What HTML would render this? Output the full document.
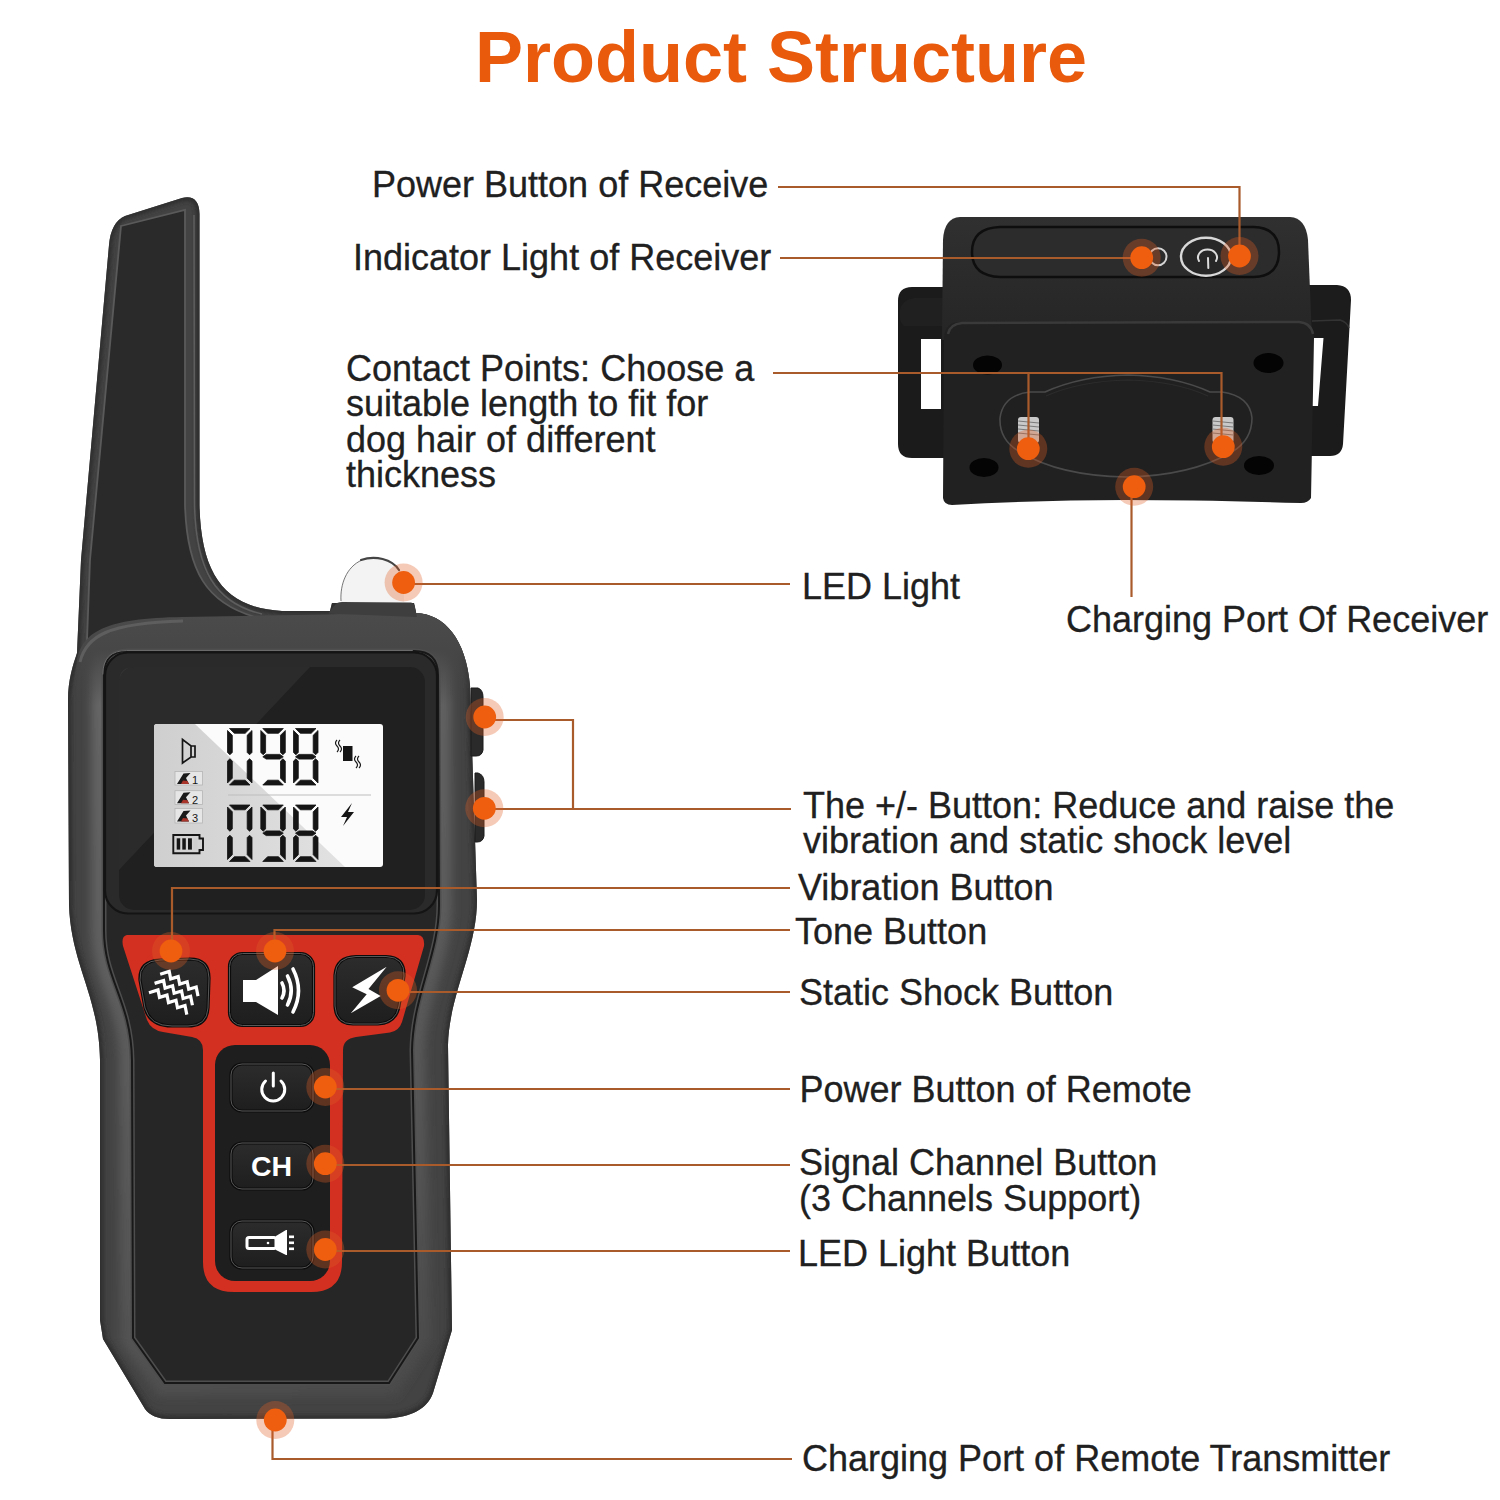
<!DOCTYPE html>
<html><head><meta charset="utf-8">
<style>
html,body{margin:0;padding:0;background:#fff;}
body{width:1500px;height:1500px;overflow:hidden;position:relative;}
svg{position:absolute;left:0;top:0;display:block;}
.lbl{font-family:"Liberation Sans",sans-serif;font-size:36px;fill:#202020;stroke:#222;stroke-width:0.3px;}
.ttl{font-family:"Liberation Sans",sans-serif;font-size:72px;font-weight:700;fill:#e95a0c;}
.ln{stroke:#a95b2b;stroke-width:2.2;fill:none;}
</style></head>
<body>
<svg width="1500" height="1500" viewBox="0 0 1500 1500">
<defs>
  <linearGradient id="rboxg" gradientUnits="userSpaceOnUse" x1="0" y1="217" x2="0" y2="330">
    <stop offset="0" stop-color="#303030"/>
    <stop offset="1" stop-color="#262626"/>
  </linearGradient>
  <linearGradient id="hlg" gradientUnits="userSpaceOnUse" x1="70" y1="700" x2="450" y2="1420">
    <stop offset="0" stop-color="#666666"/>
    <stop offset="0.6" stop-color="#575757"/>
    <stop offset="1" stop-color="#484848"/>
  </linearGradient>
  <linearGradient id="btng" x1="0" y1="0" x2="0" y2="1">
    <stop offset="0" stop-color="#2c2c2c"/>
    <stop offset="1" stop-color="#1e1e1e"/>
  </linearGradient>
  <linearGradient id="bumpg" gradientUnits="userSpaceOnUse" x1="0" y1="611" x2="0" y2="705">
    <stop offset="0" stop-color="#4b4b4b" stop-opacity="1"/>
    <stop offset="0.4" stop-color="#474747" stop-opacity="1"/>
    <stop offset="1" stop-color="#434343" stop-opacity="0"/>
  </linearGradient>
  <linearGradient id="rimg" x1="0" y1="0" x2="1" y2="0">
    <stop offset="0" stop-color="#2e2e2e"/>
    <stop offset="0.05" stop-color="#424242"/>
    <stop offset="0.12" stop-color="#3a3a3a"/>
    <stop offset="0.88" stop-color="#3a3a3a"/>
    <stop offset="0.94" stop-color="#454545"/>
    <stop offset="1" stop-color="#2e2e2e"/>
  </linearGradient>
  <linearGradient id="glare" x1="0" y1="0" x2="1" y2="0">
    <stop offset="0" stop-color="#cfcfcf"/>
    <stop offset="1" stop-color="#e2e2e2"/>
  </linearGradient>
  <linearGradient id="lcdg" x1="0" y1="0" x2="1" y2="1">
    <stop offset="0" stop-color="#d9d9d9"/>
    <stop offset="0.45" stop-color="#e4e4e4"/>
    <stop offset="0.5" stop-color="#f7f7f7"/>
    <stop offset="1" stop-color="#ffffff"/>
  </linearGradient>
</defs>

<!-- TITLE -->
<text class="ttl" x="475" y="82">Product Structure</text>

<!-- ============ REMOTE ============ -->
<g id="remote">
  <!-- outer silhouette (rim) -->
  <clipPath id="silclip"><path d="M109,245 Q111,222 125,216 L182,198 Q199,194 199.5,214 L199.5,505 C201,575 225,608 282,611 L330,611 L332,603 L414,603 L416,613 C445,614 466,640 470,685 L477,900 C477,950 449,995 448,1045 L452,1330 L433,1393 C427,1409 412,1417 386,1418.5 L170,1419 Q152,1419 145,1409 L103,1339 L100,1320 L100,1060 C99,995 71,965 69,905 L68,700 C68,680 73,665 77,653 L81,560 Z"/></clipPath>
  <filter id="blur5" x="-20%" y="-20%" width="140%" height="140%"><feGaussianBlur stdDeviation="5"/></filter>
  <filter id="blur2" x="-20%" y="-20%" width="140%" height="140%"><feGaussianBlur stdDeviation="2"/></filter>
  <path fill="#434343" d="M109,245 Q111,222 125,216 L182,198 Q199,194 199.5,214 L199.5,505 C201,575 225,608 282,611 L330,611 L332,603 L414,603 L416,613 C445,614 466,640 470,685 L477,900 C477,950 449,995 448,1045 L452,1330 L433,1393 C427,1409 412,1417 386,1418.5 L170,1419 Q152,1419 145,1409 L103,1339 L100,1320 L100,1060 C99,995 71,965 69,905 L68,700 C68,680 73,665 77,653 L81,560 Z"/>
  <g clip-path="url(#silclip)">
    <path d="M128,651 L414,651 Q438,651 438,675 L439,905 C439,955 413,995 412,1050 L418,1338 L389,1383 L165,1383 L133,1338 L132,1060 C131,1000 104,980 104,930 L104,675 Q104,651 128,651 Z" fill="none" stroke="url(#hlg)" stroke-width="26" filter="url(#blur5)"/>
    <path d="M109,245 Q111,222 125,216 L182,198 Q199,194 199.5,214 L199.5,505 C201,575 225,608 282,611 L330,611 L332,603 L414,603 L416,613 C445,614 466,640 470,685 L477,900 C477,950 449,995 448,1045 L452,1330 L433,1393 C427,1409 412,1417 386,1418.5 L170,1419 Q152,1419 145,1409 L103,1339 L100,1320 L100,1060 C99,995 71,965 69,905 L68,700 C68,680 73,665 77,653 L81,560 Z" fill="none" stroke="#2e2e2e" stroke-width="7" filter="url(#blur2)"/>
  </g>
  <!-- antenna inner face -->
  <path fill="#2a2a2a" stroke="#5a5a5a" stroke-width="1.8" d="M121,226 L185,210 L185,505 C187,572 207,603 255,617 L87,640 L90,560 Z"/>
  <path d="M194,215 L194.5,505 C196,570 215,603 262,614" fill="none" stroke="#5e5e5e" stroke-width="1.5"/>
  <!-- body bumper top band -->
  <path fill="url(#bumpg)" d="M77,661 C82,632 105,618 183,617 L416,613 C445,614 466,640 470,685 L471,705 L438,705 L438,674 Q436,652 414,652 L128,652 Q106,652 106,674 L106,705 L70,705 Z"/>
  <path fill="none" stroke="#5e5e5e" stroke-width="3" d="M80,662 C86,636 108,623 183,621"/>
  <!-- inner panel -->
  <path d="M128,651 L414,651 Q438,651 438,675 L439,905 C439,955 413,995 412,1050 L418,1338 L389,1383 L165,1383 L133,1338 L132,1060 C131,1000 104,980 104,930 L104,675 Q104,651 128,651 Z" fill="#262626" stroke="#4e4e4e" stroke-width="5"/>
  <path d="M128,651 L414,651 Q438,651 438,675 L439,905 C439,955 413,995 412,1050 L418,1338 L389,1383 L165,1383 L133,1338 L132,1060 C131,1000 104,980 104,930 L104,675 Q104,651 128,651 Z" fill="none" stroke="#181818" stroke-width="2"/>
  <!-- screen bezel -->
  <rect x="105" y="652.5" width="332" height="261" rx="23" fill="#2a2a2a" stroke="#141414" stroke-width="2.2"/>
  <path d="M104,676 Q104,652 128,652 L414,652" fill="none" stroke="#6a6a6a" stroke-width="1" transform="translate(-1.2,-1.5)"/>
  <rect x="119" y="667" width="306" height="243" rx="15" fill="#202020"/>
  <path d="M134,667 L310,667 L119,870 L119,682 Q119,667 134,667 Z" fill="#ffffff" opacity="0.05"/>
  <!-- LCD -->
  <rect x="154" y="724" width="229" height="143" rx="3" fill="#fbfbfb"/>
  <path d="M157,724 L195,724 L345,867 L157,867 Q154,867 154,864 L154,727 Q154,724 157,724 Z" fill="url(#glare)"/>
  <g fill="#151515" stroke="#151515" stroke-width="0.8" stroke-linejoin="round">
<polygon points="229.5,728.5 250.0,728.5 245.2,733.3 234.3,733.3"/>
<polygon points="252.0,730.5 247.2,735.3 247.2,752.4 249.6,754.8 252.0,752.4"/>
<polygon points="252.0,761.1 249.6,758.8 247.2,761.1 247.2,778.2 252.0,783.0"/>
<polygon points="234.3,780.2 245.2,780.2 250.0,785.0 229.5,785.0"/>
<polygon points="227.5,761.1 229.9,758.8 232.3,761.1 232.3,778.2 227.5,783.0"/>
<polygon points="227.5,730.5 232.3,735.3 232.3,752.4 229.9,754.8 227.5,752.4"/>
<polygon points="262.8,728.5 283.3,728.5 278.5,733.3 267.6,733.3"/>
<polygon points="285.3,730.5 280.5,735.3 280.5,752.4 282.9,754.8 285.3,752.4"/>
<polygon points="285.3,761.1 282.9,758.8 280.5,761.1 280.5,778.2 285.3,783.0"/>
<polygon points="267.6,780.2 278.5,780.2 283.3,785.0 262.8,785.0"/>
<polygon points="260.8,730.5 265.6,735.3 265.6,752.4 263.2,754.8 260.8,752.4"/>
<polygon points="266.2,754.4 279.9,754.4 283.3,756.8 279.9,759.1 266.2,759.1 262.8,756.8"/>
<polygon points="295.5,728.5 316.0,728.5 311.2,733.3 300.3,733.3"/>
<polygon points="318.0,730.5 313.2,735.3 313.2,752.4 315.6,754.8 318.0,752.4"/>
<polygon points="318.0,761.1 315.6,758.8 313.2,761.1 313.2,778.2 318.0,783.0"/>
<polygon points="300.3,780.2 311.2,780.2 316.0,785.0 295.5,785.0"/>
<polygon points="293.5,761.1 295.9,758.8 298.3,761.1 298.3,778.2 293.5,783.0"/>
<polygon points="293.5,730.5 298.3,735.3 298.3,752.4 295.9,754.8 293.5,752.4"/>
<polygon points="298.9,754.4 312.6,754.4 316.0,756.8 312.6,759.1 298.9,759.1 295.5,756.8"/>
<polygon points="229.5,805.0 250.0,805.0 245.2,809.8 234.3,809.8"/>
<polygon points="252.0,807.0 247.2,811.8 247.2,828.9 249.6,831.2 252.0,828.9"/>
<polygon points="252.0,837.6 249.6,835.2 247.2,837.6 247.2,854.7 252.0,859.5"/>
<polygon points="234.3,856.7 245.2,856.7 250.0,861.5 229.5,861.5"/>
<polygon points="227.5,837.6 229.9,835.2 232.3,837.6 232.3,854.7 227.5,859.5"/>
<polygon points="227.5,807.0 232.3,811.8 232.3,828.9 229.9,831.2 227.5,828.9"/>
<polygon points="262.8,805.0 283.3,805.0 278.5,809.8 267.6,809.8"/>
<polygon points="285.3,807.0 280.5,811.8 280.5,828.9 282.9,831.2 285.3,828.9"/>
<polygon points="285.3,837.6 282.9,835.2 280.5,837.6 280.5,854.7 285.3,859.5"/>
<polygon points="267.6,856.7 278.5,856.7 283.3,861.5 262.8,861.5"/>
<polygon points="260.8,807.0 265.6,811.8 265.6,828.9 263.2,831.2 260.8,828.9"/>
<polygon points="266.2,830.9 279.9,830.9 283.3,833.2 279.9,835.6 266.2,835.6 262.8,833.2"/>
<polygon points="295.5,805.0 316.0,805.0 311.2,809.8 300.3,809.8"/>
<polygon points="318.0,807.0 313.2,811.8 313.2,828.9 315.6,831.2 318.0,828.9"/>
<polygon points="318.0,837.6 315.6,835.2 313.2,837.6 313.2,854.7 318.0,859.5"/>
<polygon points="300.3,856.7 311.2,856.7 316.0,861.5 295.5,861.5"/>
<polygon points="293.5,837.6 295.9,835.2 298.3,837.6 298.3,854.7 293.5,859.5"/>
<polygon points="293.5,807.0 298.3,811.8 298.3,828.9 295.9,831.2 293.5,828.9"/>
<polygon points="298.9,830.9 312.6,830.9 316.0,833.2 312.6,835.6 298.9,835.6 295.5,833.2"/>

  </g>
  <line x1="228" y1="795" x2="371" y2="795" stroke="#bdbdbd" stroke-width="1.2"/>
  <!-- speaker icon -->
  <path d="M182.5,739.5 L191,746 L195,746 L195,757 L191,757 L182.5,763 Z M191,746 L191,757" fill="none" stroke="#151515" stroke-width="1.7" stroke-linejoin="miter"/>
  <!-- dog boxes -->
  <g>
    <rect x="175" y="771.5" width="27.5" height="13.5" fill="#e6e6e6" stroke="#b5b5b5" stroke-width="0.8"/>
    <rect x="175" y="790.7" width="27.5" height="13.8" fill="#e6e6e6" stroke="#b5b5b5" stroke-width="0.8"/>
    <rect x="175" y="808.5" width="27.5" height="14.5" fill="#e6e6e6" stroke="#b5b5b5" stroke-width="0.8"/>
    <g>
      <path d="M177,784 L183.5,773.5 L190.5,773 L186,778 L189,784 Z" fill="#1a1a1a"/>
      <path d="M181,784 L183,780.5 L187.5,781 L189,784 Z" fill="#a8342a"/>
    </g>
    <g transform="translate(0 19.3)">
      <path d="M177,784 L183.5,773.5 L190.5,773 L186,778 L189,784 Z" fill="#1a1a1a"/>
      <path d="M181,784 L183,780.5 L187.5,781 L189,784 Z" fill="#a8342a"/>
    </g>
    <g transform="translate(0 37.5)">
      <path d="M177,784 L183.5,773.5 L190.5,773 L186,778 L189,784 Z" fill="#1a1a1a"/>
      <path d="M181,784 L183,780.5 L187.5,781 L189,784 Z" fill="#a8342a"/>
    </g>
    <text x="192" y="784" font-family="Liberation Sans" font-size="11" fill="#151515">1</text>
    <text x="192" y="803.5" font-family="Liberation Sans" font-size="11" fill="#151515">2</text>
    <text x="192" y="822" font-family="Liberation Sans" font-size="11" fill="#151515">3</text>
  </g>
  <!-- battery -->
  <path d="M173.3,835 L199.5,835 L199.5,838.5 L203,838.5 L203,850 L199.5,850 L199.5,853.3 L173.3,853.3 Z" fill="none" stroke="#151515" stroke-width="1.9"/>
  <rect x="176.7" y="838.3" width="3.5" height="11.3" fill="#151515"/>
  <rect x="182.3" y="838.3" width="3.5" height="11.3" fill="#151515"/>
  <rect x="188" y="838.3" width="3.9" height="11.3" fill="#151515"/>
  <rect x="193.6" y="838.3" width="4" height="11.3" fill="#cfcfcf"/>
  <!-- vibration icon -->
  <rect x="343" y="746" width="9.5" height="15" fill="#151515"/>
  <path d="M337,740 q-3,3 0,6 q3,3 0,6 M340,740 q-3,3 0,6 q3,3 0,6 M356,756 q-3,3 0,6 q3,3 0,6 M359,756 q-3,3 0,6 q3,3 0,6" fill="none" stroke="#151515" stroke-width="1.1"/>
  <!-- lightning on LCD -->
  <path d="M352,803 L341,817 L347,817 L343,826 L354,812 L348,812 Z" fill="#151515"/>

  <!-- side buttons -->
  <path d="M471,688 L478,688 Q483,690 483,697 L483,750 Q482,756 476,756 L471,756 Z" fill="#2a2a2a" stroke="#1a1a1a" stroke-width="1"/>
  <path d="M475,773 L478,773 Q484,775 484,782 L484,836 Q483,842 477,842 L475,842 Z" fill="#2a2a2a" stroke="#1a1a1a" stroke-width="1"/>
  <!-- LED base & dome -->
  <path d="M328,613.5 L335,605 Q337,602 342,602 L411,602.5 Q414,603 415,607 L417,617 Z" fill="#3e3e3e"/>
  <path d="M341,602 C340,585 346,567 362,560 C378,555 393,560 400,571 C404,580 404,592 404,602 Z" fill="#f3f3f3"/>
  <path d="M341,601 C340,585 346,567 362,560" fill="none" stroke="#666" stroke-width="0.9"/>
  <path d="M361,560 C375,555 392,559 399,570" fill="none" stroke="#444" stroke-width="2.2" stroke-linecap="round"/>
  <!-- red T panel -->
  <path fill="#d33021" d="M127,935 L418,935 Q425,936 424,946 L402,1022 Q399,1031 390,1032.5 L356,1037 Q343,1039 343,1050 L342,1262 Q342,1292 311,1292 L234,1292 Q203,1292 203,1262 L203,1050 Q203,1039 192,1037 L163,1032 Q151,1030 147,1020 L123,946 Q121,936 127,935 Z"/>
  <rect x="215" y="1045" width="115" height="236" rx="20" fill="#1e1e1e"/>

  <!-- buttons -->
  <path fill="url(#btng)" stroke="#0c0c0c" stroke-width="3.2" d="M140,980 Q139,961 160,960 L190,959 Q209,959 209,978 L208,1008 Q207,1026 188,1026 L172,1026 Q150,1026 145,1008 Z"/>
  <path fill="none" stroke="#585858" stroke-width="1" d="M140,980 Q139,961 160,960 L190,959 Q209,959 209,978 L208,1008 Q207,1026 188,1026 L172,1026 Q150,1026 145,1008 Z"/>
  <rect x="229.5" y="953.5" width="84" height="72" rx="13" fill="url(#btng)" stroke="#0c0c0c" stroke-width="3.2"/>
  <rect x="229.5" y="953.5" width="84" height="72" rx="13" fill="none" stroke="#585858" stroke-width="1"/>
  <path fill="url(#btng)" stroke="#0c0c0c" stroke-width="3.2" d="M335,975 Q336,957 356,956.5 L386,956.5 Q405,957 404,976 L399,1006 Q396,1023 378,1024 L353,1024 Q336,1024 335,1006 Z"/>
  <path fill="none" stroke="#585858" stroke-width="1" d="M335,975 Q336,957 356,956.5 L386,956.5 Q405,957 404,976 L399,1006 Q396,1023 378,1024 L353,1024 Q336,1024 335,1006 Z"/>
  <rect x="231" y="1064" width="82" height="47" rx="11" fill="url(#btng)" stroke="#0c0c0c" stroke-width="3.2"/>
  <rect x="231" y="1064" width="82" height="47" rx="11" fill="none" stroke="#585858" stroke-width="1"/>
  <rect x="231" y="1143" width="82" height="46" rx="11" fill="url(#btng)" stroke="#0c0c0c" stroke-width="3.2"/>
  <rect x="231" y="1143" width="82" height="46" rx="11" fill="none" stroke="#585858" stroke-width="1"/>
  <rect x="231" y="1221" width="82" height="47" rx="11" fill="url(#btng)" stroke="#0c0c0c" stroke-width="3.2"/>
  <rect x="231" y="1221" width="82" height="47" rx="11" fill="none" stroke="#585858" stroke-width="1"/>

  <!-- icons -->
  <g fill="none" stroke="#ffffff" stroke-width="3.2" stroke-linejoin="miter" stroke-linecap="square">
    <path d="M161.7,973.7 l7.5,-2.3 l1.5,7.5 l7.5,-2.3 l1.5,7.5 l7.5,-2.3 l1.5,7.5 l7.5,-2.3 l1.5,7.5"/>
    <path d="M156.1,982.9 l7.5,-2.3 l1.5,7.5 l7.5,-2.3 l1.5,7.5 l7.5,-2.3 l1.5,7.5 l7.5,-2.3 l1.5,7.5"/>
    <path d="M150.5,992.2 l7.5,-2.3 l1.5,7.5 l7.5,-2.3 l1.5,7.5 l7.5,-2.3 l1.5,7.5 l7.5,-2.3 l1.5,7.5"/>
  </g>
  <path d="M243,980 L256,980 L278,966 L278,1015 L256,1002 L243,1002 Z" fill="#ffffff"/>
  <g fill="none" stroke="#ffffff" stroke-width="3.6" stroke-linecap="round">
    <path d="M282,983 Q286,990.5 282,998"/>
    <path d="M287.5,976 Q295,990.5 287.5,1005"/>
    <path d="M293,969 Q304,990.5 293,1012"/>
  </g>
  <path d="M386.7,966.7 L352.2,987.2 L366.7,994.2 L350.8,1013.3 L380.7,996 L368.5,989 Z" fill="#ffffff"/>
  <g fill="none" stroke="#ffffff" stroke-width="3" stroke-linecap="round">
    <path d="M265.5,1081 A11.5,11.5 0 1 0 281,1081"/>
    <path d="M273.3,1073 L273.3,1086"/>
  </g>
  <text x="271.5" y="1176" text-anchor="middle" font-family="Liberation Sans" font-weight="700" font-size="28.5" fill="#ffffff">CH</text>
  <rect x="247" y="1237.5" width="29" height="11" rx="2" fill="none" stroke="#ffffff" stroke-width="3"/>
  <circle cx="268" cy="1243" r="1.3" fill="#fff"/>
  <path d="M276,1236 L286,1230 L287,1230 L287,1255 L286,1255 L276,1250 Z" fill="#ffffff"/>
  <rect x="289" y="1235.5" width="5" height="2.6" fill="#fff"/>
  <rect x="289" y="1241.5" width="5" height="2.6" fill="#fff"/>
  <rect x="289" y="1247.5" width="5" height="2.6" fill="#fff"/>
</g>

<!-- ============ RECEIVER ============ -->
<g id="receiver">
  <!-- strap loops -->
  <path fill="#1b1b1b" fill-rule="evenodd" d="M912,287 L946,287 L946,458 L912,458 Q898,458 898,444 L898,301 Q898,287 912,287 Z M921,339 L941,339 L941,409 L921,409 Z"/>
  <path fill="#202020" d="M900,310 Q902,300 914,298 L944,298 L944,326 L904,326 Q900,322 900,318 Z"/>
  <path fill="#1b1b1b" fill-rule="evenodd" d="M1305,285 L1337,285 Q1351,286 1351,300 L1343,444 Q1342,456 1330,456 L1305,456 Z M1311,338 L1323.5,338 L1318,406 L1311,406 Z"/>
  <path fill="#1c1c1c" d="M1308,287 L1336,287 Q1349,289 1350,302 L1349,320 L1308,322 Z"/>
  <path fill="none" stroke="#333" stroke-width="1.5" d="M1312,321 L1340,320 Q1347,322 1349,328"/>
  <!-- top box -->
  <path fill="url(#rboxg)" d="M960,217 L1290,217 Q1306,218 1308,240 L1312,340 L942,340 L943,240 Q944,218 960,217 Z"/>
  <!-- top pill panel -->
  <path fill="#2c2c2c" stroke="#0e0e0e" stroke-width="2.5" d="M1000,227 L1254,227 Q1279,228 1279,252 Q1279,276 1254,277 L1000,277 Q972,276 972,252 Q972,228 1000,227 Z"/>
  <!-- front face -->
  <path fill="#212121" d="M960,322 L1299,321 Q1314,322 1314,338 L1311,498 Q1308,503 1301,503 Q1200,500 1125,500 Q1040,500 952,505 Q944,505 943,498 L944,338 Q945,322 960,322 Z"/>
  <path fill="none" stroke="#3a3a3a" stroke-width="2.5" d="M948,334 Q950,324 962,323 L1299,322 Q1311,323 1313,334"/>
  <!-- holes -->
  <ellipse cx="987.5" cy="365" rx="14.5" ry="9.5" fill="#040404"/>
  <ellipse cx="1268.5" cy="363" rx="15" ry="10" fill="#040404"/>
  <ellipse cx="984" cy="467.5" rx="14.5" ry="9.5" fill="#040404"/>
  <ellipse cx="1259" cy="465.5" rx="15" ry="9.5" fill="#040404"/>
  <!-- oval plate -->
  <path fill="#202020" stroke="#4a4a4a" stroke-width="1.6" d="M1000,418 Q1003,395 1030,392 L1045,392 Q1080,376 1128,375 Q1175,376 1210,392 L1222,392 Q1250,396 1252,418 Q1252,440 1232,452 Q1190,476 1126,477 Q1060,476 1020,452 Q999,440 1000,418 Z"/>
  <path fill="none" stroke="#2c2c2c" stroke-width="1.2" d="M1046,396 Q1080,381 1128,380 Q1175,381 1208,396"/>
  <!-- screws -->
  <rect x="1018" y="417" width="21" height="26" rx="3" fill="#c9c9c9"/>
  <rect x="1212.5" y="417" width="21" height="26" rx="3" fill="#c9c9c9"/>
  <g stroke="#7a7a7a" stroke-width="1">
    <path d="M1018,421 L1039,423 M1018,425 L1039,427 M1018,429 L1039,431 M1018,433 L1039,435"/>
    <path d="M1212.5,421 L1233.5,423 M1212.5,425 L1233.5,427 M1212.5,429 L1233.5,431 M1212.5,433 L1233.5,435"/>
  </g>
  <!-- indicator ring & power button -->
  <ellipse cx="1158" cy="256.7" rx="8.5" ry="8.5" fill="none" stroke="#d4d4d4" stroke-width="2"/>
  <ellipse cx="1206" cy="256.7" rx="25" ry="19" fill="#272727" stroke="#d8d8d8" stroke-width="2.4"/>
  <g fill="none" stroke="#dcdcdc" stroke-width="2" stroke-linecap="round">
    <path d="M1199,261 A9.5,8 0 1 1 1216,261"/>
    <path d="M1208,258 L1208.3,268"/>
  </g>
</g>

<!-- ============ LEADER LINES ============ -->
<g class="ln">
  <path d="M778,187 L1239.5,187 L1239.5,256"/>
  <path d="M780,258 L1142,258"/>
  <path d="M773,373 L1221.5,373 L1221.5,447 M1028.5,373 L1028.5,448"/>
  <path d="M1131.5,488 L1131.5,597"/>
  <path d="M403,584 L790,584"/>
  <path d="M485,720 L573,720 L573,809 M485,809 L791,809"/>
  <path d="M172,950 L172,888 L790,888"/>
  <path d="M274.5,950 L274.5,930 L790,930"/>
  <path d="M398,992 L790,992"/>
  <path d="M325,1089 L790,1089"/>
  <path d="M325,1165 L790,1165"/>
  <path d="M325,1251 L790,1251"/>
  <path d="M275,1420 L272.5,1420 L272.5,1459 L792,1459"/>
</g>

<!-- ============ DOTS ============ -->
<g>
  <g fill="#e15f23" fill-opacity="0.33">
    <circle cx="1239.5" cy="256" r="19"/>
    <circle cx="1141.7" cy="257.7" r="19"/>
    <circle cx="1028.3" cy="448.7" r="19"/>
    <circle cx="1223.3" cy="446.7" r="19"/>
    <circle cx="1134.2" cy="486.7" r="19"/>
    <circle cx="403.6" cy="582.5" r="19"/>
    <circle cx="484.7" cy="717" r="19"/>
    <circle cx="484.3" cy="808.3" r="19"/>
    <circle cx="171" cy="951" r="19"/>
    <circle cx="275" cy="951" r="19"/>
    <circle cx="398" cy="990.3" r="19"/>
    <circle cx="325.3" cy="1087" r="19"/>
    <circle cx="325.3" cy="1163.7" r="19"/>
    <circle cx="325.3" cy="1249.5" r="19"/>
    <circle cx="275.3" cy="1420" r="19"/>
  </g>
  <g fill="#ee5e0e">
    <circle cx="1239.5" cy="256" r="11.4"/>
    <circle cx="1141.7" cy="257.7" r="11.4"/>
    <circle cx="1028.3" cy="448.7" r="11.4"/>
    <circle cx="1223.3" cy="446.7" r="11.4"/>
    <circle cx="1134.2" cy="486.7" r="11.4"/>
    <circle cx="403.6" cy="582.5" r="11.4"/>
    <circle cx="484.7" cy="717" r="11.4"/>
    <circle cx="484.3" cy="808.3" r="11.4"/>
    <circle cx="171" cy="951" r="11.4"/>
    <circle cx="275" cy="951" r="11.4"/>
    <circle cx="398" cy="990.3" r="11.4"/>
    <circle cx="325.3" cy="1087" r="11.4"/>
    <circle cx="325.3" cy="1163.7" r="11.4"/>
    <circle cx="325.3" cy="1249.5" r="11.4"/>
    <circle cx="275.3" cy="1420" r="11.4"/>
  </g>
</g>

<!-- ============ LABELS ============ -->
<g class="lbl">
  <text x="372" y="197">Power Button of Receive</text>
  <text x="353" y="270">Indicator Light of Receiver</text>
  <text x="346" y="380.5">Contact Points: Choose a</text>
  <text x="346" y="416">suitable length to fit for</text>
  <text x="346" y="451.5">dog hair of different</text>
  <text x="346" y="487">thickness</text>
  <text x="802" y="598.5">LED Light</text>
  <text x="1066" y="631.5">Charging Port Of Receiver</text>
  <text x="803" y="817.5">The +/- Button: Reduce and raise the</text>
  <text x="803" y="853">vibration and static shock level</text>
  <text x="798" y="900">Vibration Button</text>
  <text x="795" y="944">Tone Button</text>
  <text x="799" y="1005">Static Shock Button</text>
  <text x="799.5" y="1102">Power Button of Remote</text>
  <text x="799" y="1175">Signal Channel Button</text>
  <text x="799" y="1210.5">(3 Channels Support)</text>
  <text x="798" y="1266">LED Light Button</text>
  <text x="802" y="1470.5">Charging Port of Remote Transmitter</text>
</g>
</svg>
</body></html>
